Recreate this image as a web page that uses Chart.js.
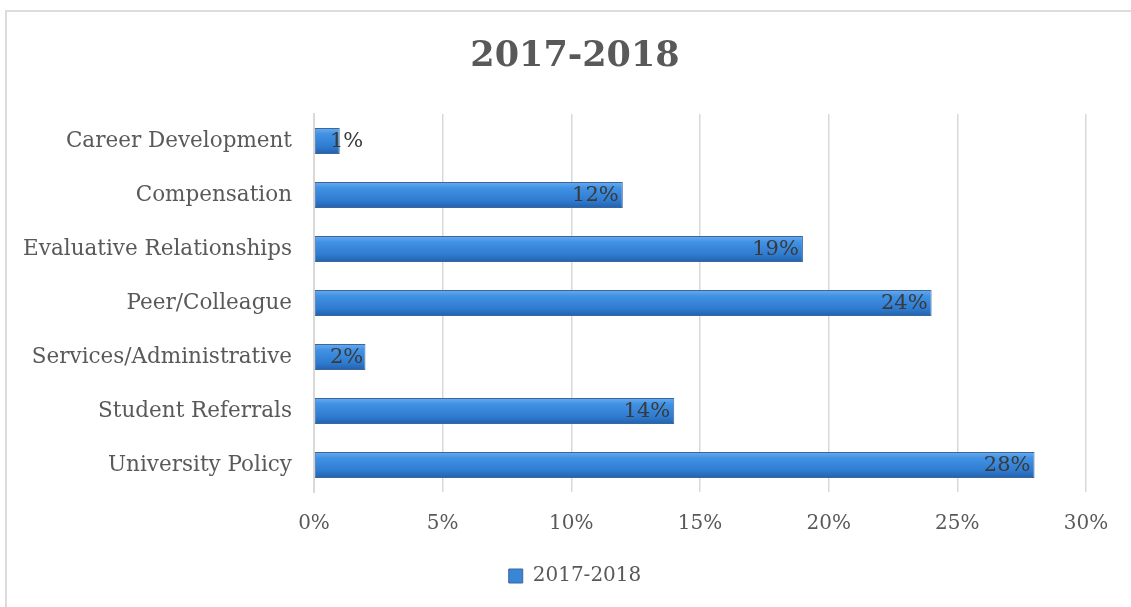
<!DOCTYPE html>
<html>
<head>
<meta charset="utf-8">
<script src="https://cdn.jsdelivr.net/npm/chart.js"></script>
<style>
  html, body { margin: 0; padding: 0; background: #fff; overflow: hidden; }
  #box { position: absolute; left: 5px; top: 10px; width: 1130px; height: 600px; border: 2px solid #dcdcdc; box-sizing: border-box; }
  #chart { display: block; }
</style>
</head>
<body>
<div id="box"><canvas id="chart" width="1126" height="596"></canvas></div>
<script>
const categories = ['Career Development', 'Compensation', 'Evaluative Relationships', 'Peer/Colleague',
    'Services/Administrative', 'Student Referrals', 'University Policy'];
const values = [1, 12, 19, 24, 2, 14, 28];
const seriesName = '2017-2018';
const xTicks = [0, 5, 10, 15, 20, 25, 30];

const fontFamily = '"DejaVu Serif", serif';

function barFill(context) {
    const chart = context.chart;
    const y = chart.scales && chart.scales.y;
    if (!chart.chartArea || !y || context.dataIndex === undefined) return '#3a86d6';
    const cy = y.getPixelForValue(context.dataIndex);
    const g = chart.ctx.createLinearGradient(0, cy - 14, 0, cy + 14);
    g.addColorStop(0, '#6fb0f2');
    g.addColorStop(0.25, '#4192e4');
    g.addColorStop(0.7, '#2f7bd0');
    g.addColorStop(1, '#1f5ea8');
    return g;
}

const barLabels = {
    id: 'barLabels',
    afterDatasetsDraw(chart) {
        const ctx = chart.ctx;
        const meta = chart.getDatasetMeta(0);
        ctx.save();
        ctx.font = '21px ' + fontFamily;
        ctx.fillStyle = '#3a3a3a';
        ctx.textAlign = 'right';
        ctx.textBaseline = 'middle';
        meta.data.forEach(function (bar, i) {
            const txt = values[i] + '%';
            const w = ctx.measureText(txt).width;
            let x = bar.x - 4;
            const minX = chart.chartArea.left + 16 + w;
            if (x < minX) x = minX;
            ctx.fillText(txt, x, bar.y + 1);
        });
        ctx.restore();
    }
};

new Chart(document.getElementById('chart'), {
    type: 'bar',
    data: {
        labels: categories,
        datasets: [{
            label: seriesName,
            data: values,
            backgroundColor: barFill,
            borderColor: '#3d679a',
            borderWidth: 1,
            borderSkipped: false,
            categoryPercentage: 0.5,
            barPercentage: 0.96
        }]
    },
    options: {
        indexAxis: 'y',
        responsive: false,
        animation: false,
        layout: { padding: { left: 10, right: 0, top: 10, bottom: 12 } },
        scales: {
            x: {
                min: 0,
                max: 30,
                afterBuildTicks: function (scale) {
                    scale.ticks = xTicks.map(function (v) { return { value: v }; });
                },
                afterFit: function (scale) { scale.paddingLeft = 0; scale.paddingRight = 47; },
                ticks: {
                    color: '#595959',
                    font: { family: fontFamily, size: 20 },
                    padding: 20,
                    callback: function (v) { return v + '%'; }
                },
                grid: { color: '#d9d9d9', lineWidth: 1.5, drawTicks: false },
                border: { display: false }
            },
            y: {
                ticks: {
                    color: '#595959',
                    font: { family: fontFamily, size: 21.5 },
                    padding: 22
                },
                grid: { display: false, drawTicks: false },
                border: { display: true, color: '#d9d9d9', width: 2 },
                afterFit: function (scale) { scale.width = 297; }
            }
        },
        plugins: {
            title: {
                display: true,
                text: '2017-2018',
                color: '#595959',
                font: { family: fontFamily, size: 35, weight: 'bold' },
                padding: { top: 14, bottom: 36 }
            },
            legend: {
                position: 'bottom',
                labels: {
                    color: '#595959',
                    font: { family: fontFamily, size: 20 },
                    boxWidth: 14,
                    boxHeight: 14,
                    padding: 10,
                    generateLabels: function (chart) {
                        return [{
                            text: seriesName,
                            fillStyle: '#3a86d6',
                            strokeStyle: '#3d679a',
                            fontColor: '#595959',
                            lineWidth: 1,
                            datasetIndex: 0
                        }];
                    }
                }
            },
            tooltip: { enabled: false }
        }
    },
    plugins: [barLabels]
});
</script>
</body>
</html>
